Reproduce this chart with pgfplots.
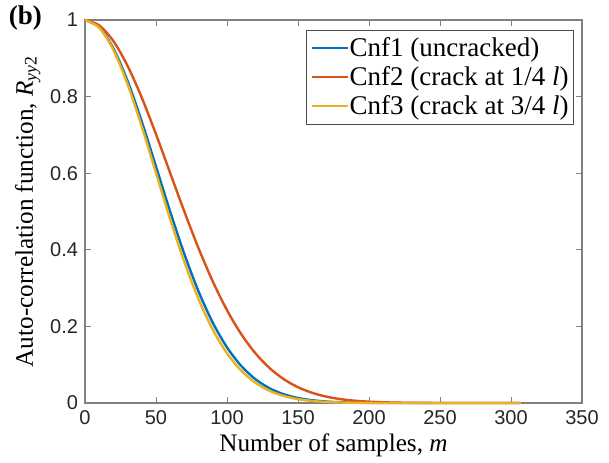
\documentclass[border=0pt]{standalone}
\usepackage{fontspec}
\setmainfont{Liberation Serif}
\newfontfamily\arial{Liberation Sans}
\usepackage{pgfplots}
\pgfplotsset{compat=1.18}
\definecolor{mblue}{rgb}{0,0.447,0.741}
\definecolor{morange}{rgb}{0.85,0.325,0.098}
\definecolor{myellow}{rgb}{0.929,0.694,0.125}
\definecolor{axgray}{gray}{0.5}
\begin{document}
\begin{tikzpicture}
\begin{axis}[
  name=main,
  scale only axis,
  width=248.5pt, height=191.5pt,
  xmin=0, xmax=350, ymin=0, ymax=1,
  xtick={0,50,...,350},
  ytick={0,0.2,0.4,0.6,0.8,1},
  yticklabels={0,0.2,0.4,0.6,0.8,1},
  tick align=inside,
  major tick length=3pt,
  axis line style={axgray, line width=0.6pt},
  every tick/.style={axgray, line width=0.5pt},
  /pgf/number format/assume math mode=true,
  tick label style={font=\arial\fontsize{10}{11}\selectfont, text=black!85},
  xlabel={Number of samples, \textit{m}},
  ylabel={Auto-correlation function, \textit{R}\textsubscript{\textit{yy}2}},
  label style={font=\fontsize{12.6}{13}\selectfont},
  xlabel style={yshift=2pt},
  ylabel style={yshift=-2pt},
  legend style={at={(0.984,0.974)}, anchor=north east, draw=black!70, line width=0.5pt,
    font=\fontsize{13.5}{15}\selectfont, inner xsep=2pt, inner ysep=1.5pt, row sep=-0.5pt,
    nodes={inner xsep=0.5pt}},
  legend cell align=left,
  legend image code/.code={\draw[#1, line width=1pt] (0pt,0pt) -- (18pt,0pt);},
  clip=false,
]
\addplot[color=mblue, line width=1.2pt, smooth] coordinates {
(0,1) (10,0.9809) (20,0.9257) (30,0.8406) (40,0.7345) (50,0.6174) (60,0.4994)
(70,0.3886) (80,0.2910) (90,0.2096) (100,0.1453) (110,0.0969) (120,0.0622)
(130,0.0384) (140,0.0228) (150,0.0130) (160,0.0072) (170,0.0038) (180,0.0019)
(190,0.0010) (200,0.0005) (210,0) (250,0) (306,0)};
\addlegendentry{Cnf1 (uncracked)}
\addplot[color=morange, line width=1.2pt, smooth] coordinates {
(0,1) (10,0.9859) (20,0.9449) (30,0.8802) (40,0.7971) (50,0.7017) (60,0.6004)
(70,0.4994) (80,0.4037) (90,0.3173) (100,0.2424) (110,0.1800) (120,0.1299)
(130,0.0912) (140,0.0622) (150,0.0412) (160,0.0266) (170,0.0166) (180,0.0101)
(190,0.0060) (200,0.0035) (210,0.0019) (220,0.0010) (230,0.0005) (240,0.0003)
(250,0) (280,0) (306,0)};
\addlegendentry{Cnf2 (crack at 1/4 \textit{l})}
\addplot[color=myellow, line width=1.2pt, smooth] coordinates {
(0,1) (10,0.9798) (20,0.9216) (30,0.8322) (40,0.7214) (50,0.6004) (60,0.4797)
(70,0.3679) (80,0.2709) (90,0.1914) (100,0.1299) (110,0.0846) (120,0.0529)
(130,0.0318) (140,0.0183) (150,0.0101) (160,0.0054) (170,0.0027) (180,0.0013)
(190,0.0006) (200,0.0003) (210,0) (250,0) (307,0)};
\addlegendentry{Cnf3 (crack at 3/4 \textit{l})}
\node[font=\bfseries\fontsize{13.5}{14}\selectfont, anchor=east, xshift=-18pt, yshift=1pt] at (rel axis cs:0,1) {(b)};
\end{axis}
\pgfresetboundingbox
\path ([shift={(-42.5pt,-29.5pt)}]main.south west) rectangle ([shift={(13.5pt,10pt)}]main.north east);
\end{tikzpicture}
\end{document}
